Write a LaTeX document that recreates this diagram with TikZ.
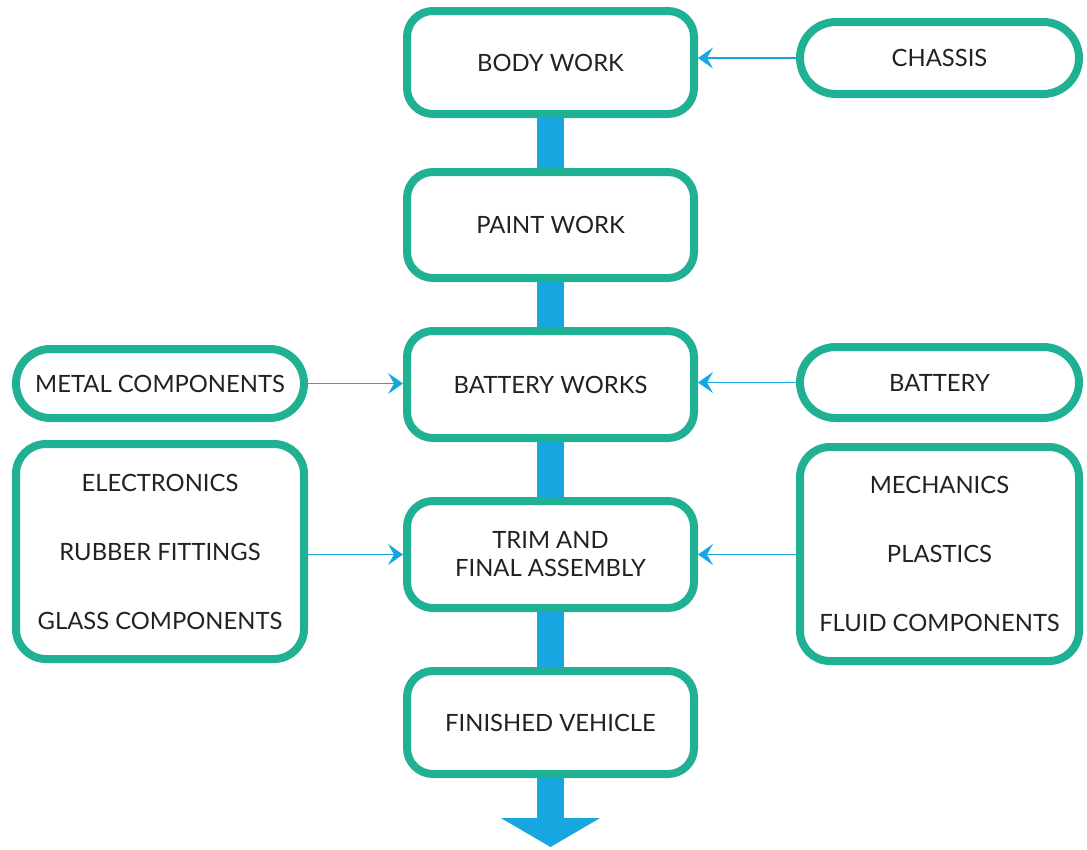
\documentclass[tikz,border=0pt]{standalone}
\usepackage{fontspec}
\setmainfont{Lato}
\usetikzlibrary{arrows.meta}
\definecolor{teal1}{HTML}{20B094}
\definecolor{flowc}{HTML}{17A6E0}
\definecolor{txt}{HTML}{222222}
\tikzset{
  box/.style={draw=teal1, line width=8pt, fill=white, rounded corners=26pt,
    text=txt, align=center, inner sep=0pt, font=\fontsize{23.8}{28}\selectfont},
  pill/.style={box, rounded corners=#1},
  tall/.style={box, rounded corners=30pt, font=\fontsize{23.8}{69}\selectfont},
  flow/.style={flowc, line width=27pt},
  feed/.style={flowc, line width=1.5pt,
    -{Stealth[length=15pt,width=21pt,inset=6pt]}},
}
\begin{document}
\begin{tikzpicture}[x=1pt,y=-1pt]
\useasboundingbox (0,0) rectangle (1087,849);
% central column
\node[box, minimum width=287pt, minimum height=103pt] (body) at (550.5,62.5) {BODY WORK};
\node[box, minimum width=287pt, minimum height=106pt] (paint) at (550.5,225) {PAINT WORK};
\node[box, minimum width=287pt, minimum height=107pt] (bw) at (550.5,384.5) {BATTERY WORKS};
\node[box, minimum width=287pt, minimum height=107pt] (trim) at (550.5,554.5) {TRIM AND\\FINAL ASSEMBLY};
\node[box, minimum width=287pt, minimum height=103pt] (fin) at (550.5,722.5) {FINISHED VEHICLE};
% side boxes
\node[pill=34.5pt, minimum width=288pt, minimum height=69pt] (metal) at (160,383.5) {METAL COMPONENTS};
\node[tall, minimum width=288pt, minimum height=215pt] (elec) at (160,551.5) {ELECTRONICS\\RUBBER FITTINGS\\GLASS COMPONENTS};
\node[pill=36pt, minimum width=279pt, minimum height=72pt] (chassis) at (939.5,58) {CHASSIS};
\node[pill=35.5pt, minimum width=279pt, minimum height=71pt] (batt) at (939.5,382.5) {BATTERY};
\node[tall, minimum width=279pt, minimum height=214pt] (mech) at (939.5,554) {MECHANICS\\PLASTICS\\FLUID COMPONENTS};
% main flow
\draw[flow] (body.south) -- (paint.north);
\draw[flow] (paint.south) -- (bw.north);
\draw[flow] (bw.south) -- (trim.north);
\draw[flow] (trim.south) -- (fin.north);
\coordinate (out) at (550.5,847);
\draw[flow, -{Triangle[width=98pt,length=29pt]}] (fin.south) -- (out);
% feeds
\draw[feed] (chassis.west) -- (chassis.west -| body.east);
\draw[feed] (metal.east) -- (metal.east -| bw.west);
\draw[feed] (batt.west) -- (batt.west -| bw.east);
\draw[feed] (elec.east |- trim.west) -- (trim.west);
\draw[feed] (mech.west |- trim.east) -- (trim.east);
\end{tikzpicture}
\end{document}
